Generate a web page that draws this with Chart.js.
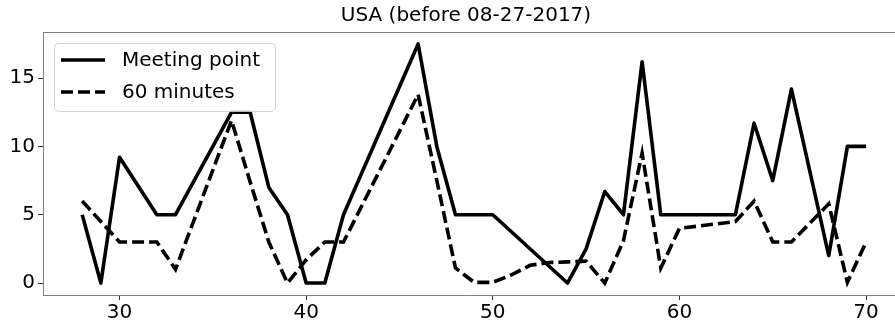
<!DOCTYPE html>
<html>
<head>
<meta charset="utf-8">
<script src="https://cdn.jsdelivr.net/npm/chart.js@4.4.0/dist/chart.umd.min.js"></script>
<style>
html,body{margin:0;padding:0;background:#fff;overflow:hidden;}
#wrap{width:895px;height:323px;position:relative;}
</style>
</head>
<body>
<div id="wrap"><canvas id="c" width="895" height="323"></canvas></div>
<script>
const titleText = "USA (before 08-27-2017)";
const seriesLabels = ["Meeting point", "60 minutes"];

const meetX = [28,29,30,32,33,36,37,38,39,40,41,42,46,47,48,50,54,55,56,57,58,59,63,64,65,66,68,69,70];
const meetY = [5,0,9.2,5,5,12.5,12.5,7,5,0,0,5,17.5,10,5,5,0,2.5,6.7,5,16.2,5,5,11.7,7.5,14.2,2,10,10];

const minX = [28,30,32,33,36,37,38,39,40,41,42,46,47,48,49,50,51,52,53,54,55,56,57,58,59,60,63,64,65,66,68,69,70];
const minY = [6,3,3,1,11.9,7.4,3,0,1.7,3,3,13.8,7.5,1.1,0.05,0.05,0.6,1.3,1.5,1.55,1.6,0,3.1,9.5,1.1,4,4.5,6,3,3,5.8,0.05,3];

const xTicks = [30,40,50,60,70];
const yTicks = [0,5,10,15];

const FONT = "'DejaVu Sans', sans-serif";

const toPts = (xs, ys) => xs.map((x, i) => ({x: x, y: ys[i]}));

const deco = {
  id: 'deco',
  afterDraw(chart) {
    const ctx = chart.ctx, a = chart.chartArea;
    ctx.save();
    // top spine
    ctx.strokeStyle = '#808080';
    ctx.lineWidth = 1;
    ctx.beginPath();
    ctx.moveTo(a.left, a.top + 0.5);
    ctx.lineTo(a.right, a.top + 0.5);
    ctx.stroke();
    // title
    ctx.fillStyle = '#000';
    ctx.font = '20px ' + FONT;
    ctx.textAlign = 'center';
    ctx.textBaseline = 'middle';
    ctx.fillText(titleText, 466, 16);
    // legend
    const bx = 54, by = 43, bw = 221, bh = 68, r = 4;
    ctx.globalAlpha = 0.8;
    ctx.fillStyle = '#fff';
    ctx.strokeStyle = '#cccccc';
    ctx.beginPath();
    ctx.roundRect(bx + 0.5, by + 0.5, bw, bh, r);
    ctx.fill();
    ctx.stroke();
    ctx.globalAlpha = 1;
    const rows = [60, 92];
    chart.data.datasets.forEach((ds, i) => {
      const y = rows[i];
      ctx.strokeStyle = ds.borderColor;
      ctx.lineWidth = ds.borderWidth;
      ctx.setLineDash(ds.borderDash || []);
      ctx.lineCap = 'butt';
      ctx.beginPath();
      ctx.moveTo(61, y);
      ctx.lineTo(105, y);
      ctx.stroke();
      ctx.setLineDash([]);
      ctx.fillStyle = '#000';
      ctx.font = '20px ' + FONT;
      ctx.textAlign = 'left';
      ctx.textBaseline = 'middle';
      ctx.fillText(ds.label, 122, y + 1);
    });
    ctx.restore();
  }
};

new Chart(document.getElementById('c'), {
  type: 'line',
  data: {
    datasets: [
      {label: seriesLabels[0], data: toPts(meetX, meetY), borderColor: '#000', borderWidth: 3.6,
       pointRadius: 0, tension: 0, fill: false, order: 1, borderJoinStyle: 'round'},
      {label: seriesLabels[1], data: toPts(minX, minY), borderColor: '#000', borderWidth: 3.6,
       borderDash: [12, 5], pointRadius: 0, tension: 0, fill: false, order: 0}
    ]
  },
  options: {
    responsive: false,
    animation: false,
    devicePixelRatio: 1,
    layout: {padding: {top: 32, right: 0, left: 0, bottom: 0}},
    plugins: {legend: {display: false}, title: {display: false}, tooltip: {enabled: false}},
    scales: {
      x: {
        type: 'linear', min: 25.9, max: 71.55,
        afterBuildTicks: s => { s.ticks = xTicks.map(v => ({value: v})); },
        afterFit: s => { s.height = 28; },
        grid: {drawOnChartArea: false, drawTicks: true, tickLength: 5, color: '#333'},
        border: {display: true, color: '#808080', width: 1},
        ticks: {color: '#000', font: {family: FONT, size: 20}, padding: 1, maxRotation: 0}
      },
      y: {
        type: 'linear', min: -0.875, max: 18.375,
        afterBuildTicks: s => { s.ticks = yTicks.map(v => ({value: v})); },
        afterFit: s => { s.width = 43; },
        grid: {drawOnChartArea: false, drawTicks: true, tickLength: 5, color: '#333'},
        border: {display: true, color: '#808080', width: 1},
        ticks: {color: '#000', font: {family: FONT, size: 20}, padding: 3}
      }
    }
  },
  plugins: [deco]
});
</script>
</body>
</html>
